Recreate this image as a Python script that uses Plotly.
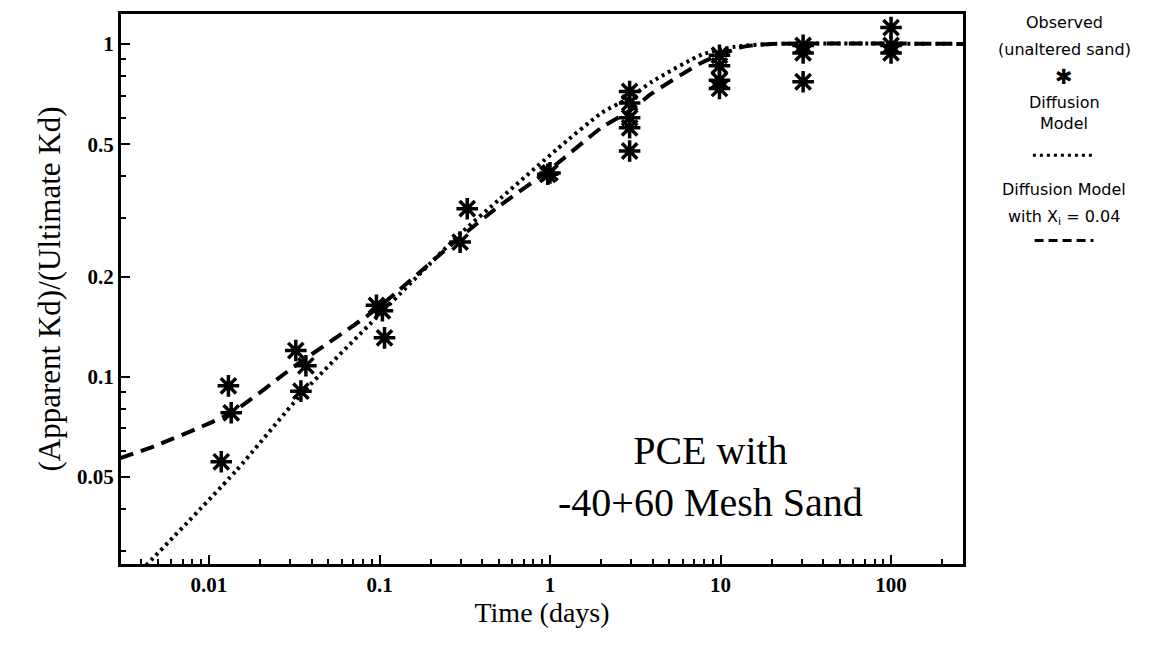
import plotly.graph_objects as go

# Observed (unaltered sand)
obs_x = [0.0118, 0.013, 0.0135, 0.0323, 0.0346, 0.037, 0.096, 0.104, 0.107, 0.297, 0.327,
         0.97, 1.0, 2.93, 2.93, 2.93, 2.93, 2.93, 9.86, 9.86, 9.86, 9.86, 30.5, 30.5, 30.5,
         100, 100, 100]
obs_y = [0.0556, 0.094, 0.078, 0.12, 0.0906, 0.108, 0.164, 0.158, 0.131, 0.254, 0.32,
         0.406, 0.41, 0.72, 0.665, 0.60, 0.56, 0.477, 0.925, 0.86, 0.778, 0.735, 0.99, 0.94, 0.77,
         1.12, 0.99, 0.94]

# Diffusion Model (dotted)
dif_x = [0.004, 0.0143, 0.035, 0.1, 0.3, 0.51, 1.1, 2.0, 2.93, 3.96, 7.8, 12, 20, 300]
dif_y = [0.0262, 0.052, 0.089, 0.154, 0.27, 0.343, 0.483, 0.62, 0.69, 0.77, 0.93, 0.98, 1.0, 1.0]

# Diffusion Model with Xi = 0.04 (dashed)
xi_x = [0.003, 0.0048, 0.0135, 0.032, 0.096, 0.29, 0.5, 1.0, 2.0, 2.93, 3.96, 7.8, 13.5, 20, 300]
xi_y = [0.057, 0.062, 0.078, 0.108, 0.16, 0.26, 0.325, 0.42, 0.56, 0.63, 0.71, 0.88, 0.98, 1.0, 1.0]

x_ticks = [0.01, 0.1, 1, 10, 100]
x_ticktext = ["0.01", "0.1", "1", "10", "100"]
y_ticks = [0.05, 0.1, 0.2, 0.5, 1]
y_ticktext = ["0.05", "0.1", "0.2", "0.5", "1"]

x_minor = [m * 10 ** e for e in range(-3, 3) for m in range(2, 10)]
y_minor = [m * 10 ** e for e in range(-2, 1) for m in range(2, 10)]

SERIF = "Liberation Serif"

fig = go.Figure()
fig.add_trace(go.Scatter(x=dif_x, y=dif_y, mode="lines",
                         line=dict(color="black", width=4, dash="3px,4px", shape="spline", smoothing=0.6),
                         showlegend=False))
fig.add_trace(go.Scatter(x=xi_x, y=xi_y, mode="lines",
                         line=dict(color="black", width=4, dash="14px,8px", shape="spline", smoothing=0.6),
                         showlegend=False))
fig.add_trace(go.Scatter(x=obs_x, y=obs_y, mode="markers",
                         marker=dict(symbol="asterisk-open", size=18, color="black",
                                     line=dict(width=3.5, color="black")),
                         showlegend=False))

axis_common = dict(showgrid=False, zeroline=False, showline=True, linecolor="black", linewidth=3,
                   mirror=True, ticks="inside", ticklen=9, tickwidth=2, tickcolor="black",
                   tickfont=dict(family=SERIF, size=21, color="black", weight="bold"))

fig.update_xaxes(type="log", range=[-2.516, 2.422], tickvals=x_ticks, ticktext=x_ticktext,
                 minor=dict(tickvals=x_minor, ticks="inside", ticklen=5, tickwidth=2, tickcolor="black"),
                 title=dict(text="Time (days)", font=dict(family=SERIF, size=28, color="black"), standoff=6),
                 **axis_common)
fig.update_yaxes(type="log", range=[-1.562, 0.09], tickvals=y_ticks, ticktext=y_ticktext,
                 minor=dict(tickvals=y_minor, ticks="inside", ticklen=5, tickwidth=2, tickcolor="black"),
                 title=dict(text="(Apparent Kd)/(Ultimate Kd)", font=dict(family=SERIF, size=31, color="black"),
                            standoff=8),
                 **axis_common)

fig.add_annotation(xref="paper", yref="paper", x=0.70, y=0.16, xanchor="center", yanchor="middle",
                   text="PCE with<br>-40+60 Mesh Sand", showarrow=False, align="center",
                   font=dict(family=SERIF, size=40, color="black"))

# custom legend on the right
LEG = "DejaVu Sans"
lx = 1.12
leg_items = [
    ("Observed", 0.985), ("(unaltered sand)", 0.935),
    ("Diffusion", 0.84), ("Model", 0.80),
    ("Diffusion Model", 0.68), ("with X<sub>i</sub> = 0.04", 0.63),
]
for txt, yy in leg_items:
    fig.add_annotation(xref="paper", yref="paper", x=lx, y=yy, xanchor="center", yanchor="middle",
                       text=txt, showarrow=False,
                       font=dict(family=LEG, size=16, color="black"))
fig.add_annotation(xref="paper", yref="paper", x=lx, y=0.885, xanchor="center", yanchor="middle",
                   text="✱", showarrow=False, font=dict(family="DejaVu Sans", size=21, color="black"))
fig.add_shape(type="line", xref="paper", yref="paper", x0=lx - 0.037, x1=lx + 0.037, y0=0.743, y1=0.743,
              line=dict(color="black", width=3, dash="3px,4px"))
fig.add_shape(type="line", xref="paper", yref="paper", x0=lx - 0.035, x1=lx + 0.035, y0=0.588, y1=0.588,
              line=dict(color="black", width=3, dash="9px,5px"))

fig.update_layout(width=1162, height=651, margin=dict(l=121, r=199, t=14, b=87),
                  paper_bgcolor="white", plot_bgcolor="white", showlegend=False)

fig.write_html("out.html")
